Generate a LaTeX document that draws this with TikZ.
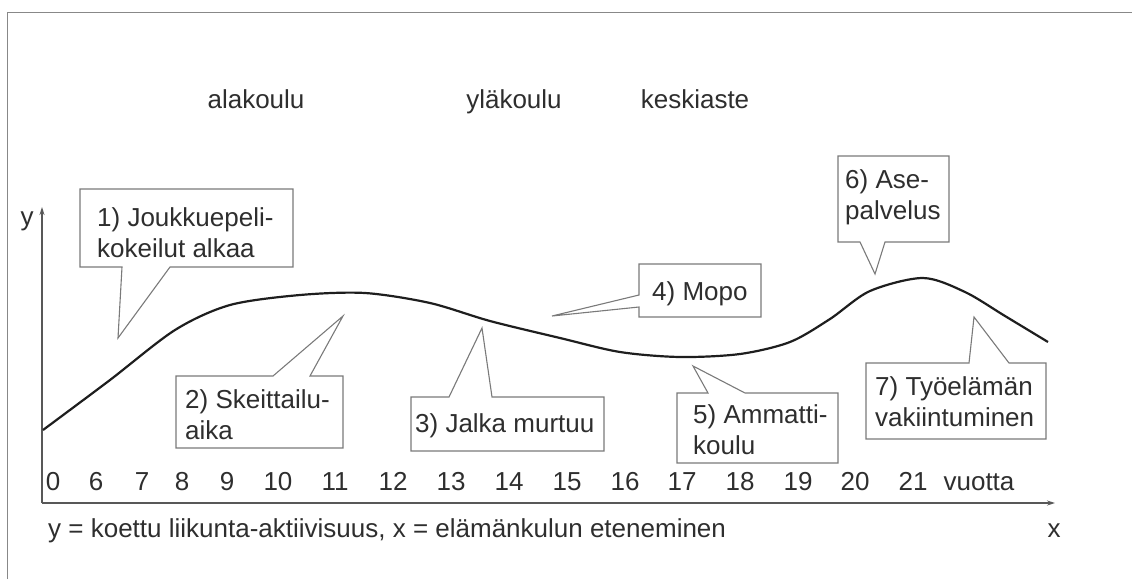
\documentclass[tikz,border=0pt]{standalone}
\usepackage{fontspec}
\setmainfont{Liberation Sans}
\usetikzlibrary{arrows.meta}
\definecolor{txt}{HTML}{2E2E2E}
\definecolor{boxline}{HTML}{7A7A7A}
\definecolor{frame}{HTML}{888888}
\definecolor{curve}{HTML}{1E1E1E}
\begin{document}
\begin{tikzpicture}[x=1pt,y=-1pt,
  lbl/.style={text=txt,font=\fontsize{26}{31}\selectfont,inner sep=0pt},
  boxtext/.style={lbl,align=left,anchor=north west},
  tick/.style={lbl,anchor=base},
  callout/.style={draw=boxline,line width=1.1pt,fill=white,line join=miter},
  axis/.style={draw=txt!80,line width=1.2pt}]
\useasboundingbox (0,0) rectangle (1132,579);
% frame
\draw[frame,line width=1.5pt] (7.5,579) -- (7.5,12.5) -- (1132,12.5);
% school labels
\node[tick] (ala) at (256,108) {alakoulu};
\node[tick] (yla) at (514,108) {yläkoulu};
\node[tick] (kesk) at (695,108) {keskiaste};
% axes
\coordinate (O) at (42,503);
\coordinate (Ytop) at (42,207);
\coordinate (Xend) at (1055,503);
\draw[axis,-{Stealth[length=8pt,width=5pt]}] (O) -- (Ytop);
\draw[axis,-{Stealth[length=8pt,width=5pt]}] (O) -- (Xend);
\node[lbl,anchor=base] (ylab) at (27,225) {y};
\node[lbl,anchor=base] (xlab) at (1054,537) {x};
\node[lbl,anchor=base west] (caption) at (48,537) {y = koettu liikunta-aktiivisuus, x = elämänkulun eteneminen};
% tick labels
\foreach \n/\x in {0/53,6/96,7/142,8/182,9/227,10/278,11/335,12/393,13/451,14/509,15/567,16/625,17/682,18/740,19/798,20/855,21/913}
  \node[tick] (t\n) at (\x,490) {\n};
\node[tick] (vuotta) at (979,490) {vuotta};
% curve
\draw[curve,line width=2.2pt] plot[smooth,tension=0.5] coordinates {
 (43,430) (110,380) (175,330) (230,305) (300,295) (365,293) (430,303)
 (490,321) (560,338) (620,352) (680,357) (740,354) (790,342) (830,319)
 (870,291) (923,278) (965,292) (1005,316) (1048,342)};
% callouts
\draw[callout] (80,189) -- (293,189) -- (293,267) -- (170,267) -- (118,338) -- (122,267) -- (80,267) -- cycle;
\node[boxtext] (c1) at (97,207) {1) Joukkuepeli-\\kokeilut alkaa};
\draw[callout] (176,376) -- (273,376) -- (343,316) -- (310,376) -- (343,376) -- (343,448) -- (176,448) -- cycle;
\node[boxtext] (c2) at (185,389) {2) Skeittailu-\\aika};
\draw[callout] (411,397) -- (449,397) -- (482,328) -- (492,397) -- (604,397) -- (604,451) -- (411,451) -- cycle;
\node[boxtext] (c3) at (415,413) {3) Jalka murtuu};
\draw[callout] (639,264) -- (761,264) -- (761,317) -- (639,317) -- (639,307) -- (552,316) -- (639,295) -- cycle;
\node[boxtext] (c4) at (652,281) {4) Mopo};
\draw[callout] (677,393) -- (708,393) -- (693,366) -- (745,393) -- (838,393) -- (838,463) -- (677,463) -- cycle;
\node[boxtext] (c5) at (693,404) {5) Ammatti-\\koulu};
\draw[callout] (838,156) -- (949,156) -- (949,242) -- (885,242) -- (875,274) -- (860,242) -- (838,242) -- cycle;
\node[boxtext] (c6) at (845,169) {6) Ase-\\palvelus};
\draw[callout] (866,363) -- (969,363) -- (974,317) -- (1009,363) -- (1046,363) -- (1046,439) -- (866,439) -- cycle;
\node[boxtext] (c7) at (875,376) {7) Työelämän\\vakiintuminen};
\end{tikzpicture}
\end{document}
